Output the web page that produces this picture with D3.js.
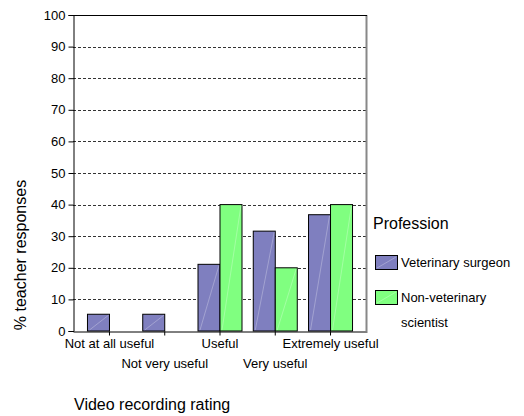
<!DOCTYPE html>
<html><head><meta charset="utf-8">
<script src="https://cdn.jsdelivr.net/npm/d3@7"></script>
<style>
html,body{margin:0;padding:0;background:#fff;}
svg{display:block;font-family:"Liberation Sans",Arial,sans-serif;}
</style></head>
<body><svg id="chart" width="524" height="416"></svg>
<script>
const categories = ["Not at all useful","Not very useful","Useful","Very useful","Extremely useful"];
const seriesNames = ["Veterinary surgeon","Non-veterinary scientist"];
const vetSurgeon = [5.3, 5.3, 21.1, 31.6, 36.8];
const nonVetScientist = [0, 0, 40, 20, 40];
const yTicks = [0,10,20,30,40,50,60,70,80,90,100];
const colors = ["#7f7fbf", "#80ff80"];

const svg = d3.select("#chart");
const L = 73, R = 367, T = 15, B = 331;

const y = d3.scaleLinear().domain([0,100]).range([B,T]);
const x0 = d3.scaleBand().domain(categories).range([L,R]).paddingInner(0).paddingOuter(0.16);
const x1 = d3.scaleBand().domain(seriesNames).range([0,x0.bandwidth()]).paddingInner(0).paddingOuter(0.256);

// grid
svg.append("g").selectAll("line").data(yTicks.filter(d=>d>0&&d<100)).join("line")
  .attr("x1",L).attr("x2",R-1).attr("y1",d=>Math.round(y(d))+0.5).attr("y2",d=>Math.round(y(d))+0.5)
  .attr("stroke","#333").attr("stroke-dasharray","3,2").attr("stroke-width",1);

// bars
const data = categories.map((c,i)=>({cat:c, vals:[vetSurgeon[i], nonVetScientist[i]]}));
const g = svg.append("g");
data.forEach(d=>{
  d.vals.forEach((v,j)=>{
    const bx = x0(d.cat)+x1(seriesNames[j]);
    const bw = x1.bandwidth();
    const by = y(v);
    g.append("rect").attr("x",bx).attr("y",by).attr("width",bw).attr("height",B-by)
      .attr("fill",colors[j]).attr("stroke","#000").attr("stroke-width",1);
    if (v>0) g.append("line").attr("x1",bx+2).attr("y1",B-1).attr("x2",bx+bw-1).attr("y2",by+1)
      .attr("stroke","#fff").attr("stroke-opacity",0.35).attr("stroke-width",0.8);
  });
});

// right border
svg.append("line").attr("x1",366.5).attr("x2",366.5).attr("y1",T).attr("y2",B)
  .attr("stroke","#888").attr("stroke-width",2);
// top border
svg.append("line").attr("x1",L).attr("x2",367).attr("y1",T+0.5).attr("y2",T+0.5).attr("stroke","#000");

// y axis
const yAxis = d3.axisLeft(y).tickValues(yTicks).tickSize(5).tickPadding(3);
const ya = svg.append("g").attr("transform",`translate(${L+0.5},0)`).call(yAxis);
ya.select(".domain").attr("stroke","#000");
ya.selectAll("text").attr("font-size",13).attr("fill","#000").attr("font-family","Liberation Sans, Arial, sans-serif");

// x axis
const xAxis = d3.axisBottom(x0).tickSize(4).tickSizeOuter(0).tickFormat(()=>"");
const xa = svg.append("g").attr("transform",`translate(0,${B+0.5})`).call(xAxis);
xa.select(".domain").attr("stroke","#000");
xa.selectAll(".tick line").attr("transform",`translate(0,0)`);
svg.append("g").selectAll("text").data(categories).join("text")
  .attr("x",d=>x0(d)+x0.bandwidth()/2)
  .attr("y",(d,i)=> i%2===0 ? 348 : 368)
  .attr("text-anchor","middle").attr("font-size",13).attr("fill","#000")
  .text(d=>d);

// axis titles
svg.append("text").attr("x",74).attr("y",410).attr("font-size",16).attr("fill","#000").text("Video recording rating");
svg.append("text").attr("transform","translate(26,255) rotate(-90)").attr("text-anchor","middle")
  .attr("font-size",16).attr("fill","#000").text("% teacher responses");

// legend
const lg = svg.append("g");
lg.append("text").attr("x",373).attr("y",229).attr("font-size",16).attr("fill","#000").text("Profession");
const legendRows = [{y:255, lines:["Veterinary surgeon"]},{y:290, lines:["Non-veterinary","scientist"]}];
legendRows.forEach((r,j)=>{
  lg.append("rect").attr("x",375.5).attr("y",r.y+0.5).attr("width",22).attr("height",14)
    .attr("fill",colors[j]).attr("stroke","#000");
  lg.append("line").attr("x1",377).attr("y1",r.y+13).attr("x2",396).attr("y2",r.y+2)
    .attr("stroke","#fff").attr("stroke-opacity",0.35).attr("stroke-width",0.8);
  r.lines.forEach((t,k)=>{
    lg.append("text").attr("x",401).attr("y",r.y+12+k*25).attr("font-size",13).attr("fill","#000").text(t);
  });
});
</script></body></html>
